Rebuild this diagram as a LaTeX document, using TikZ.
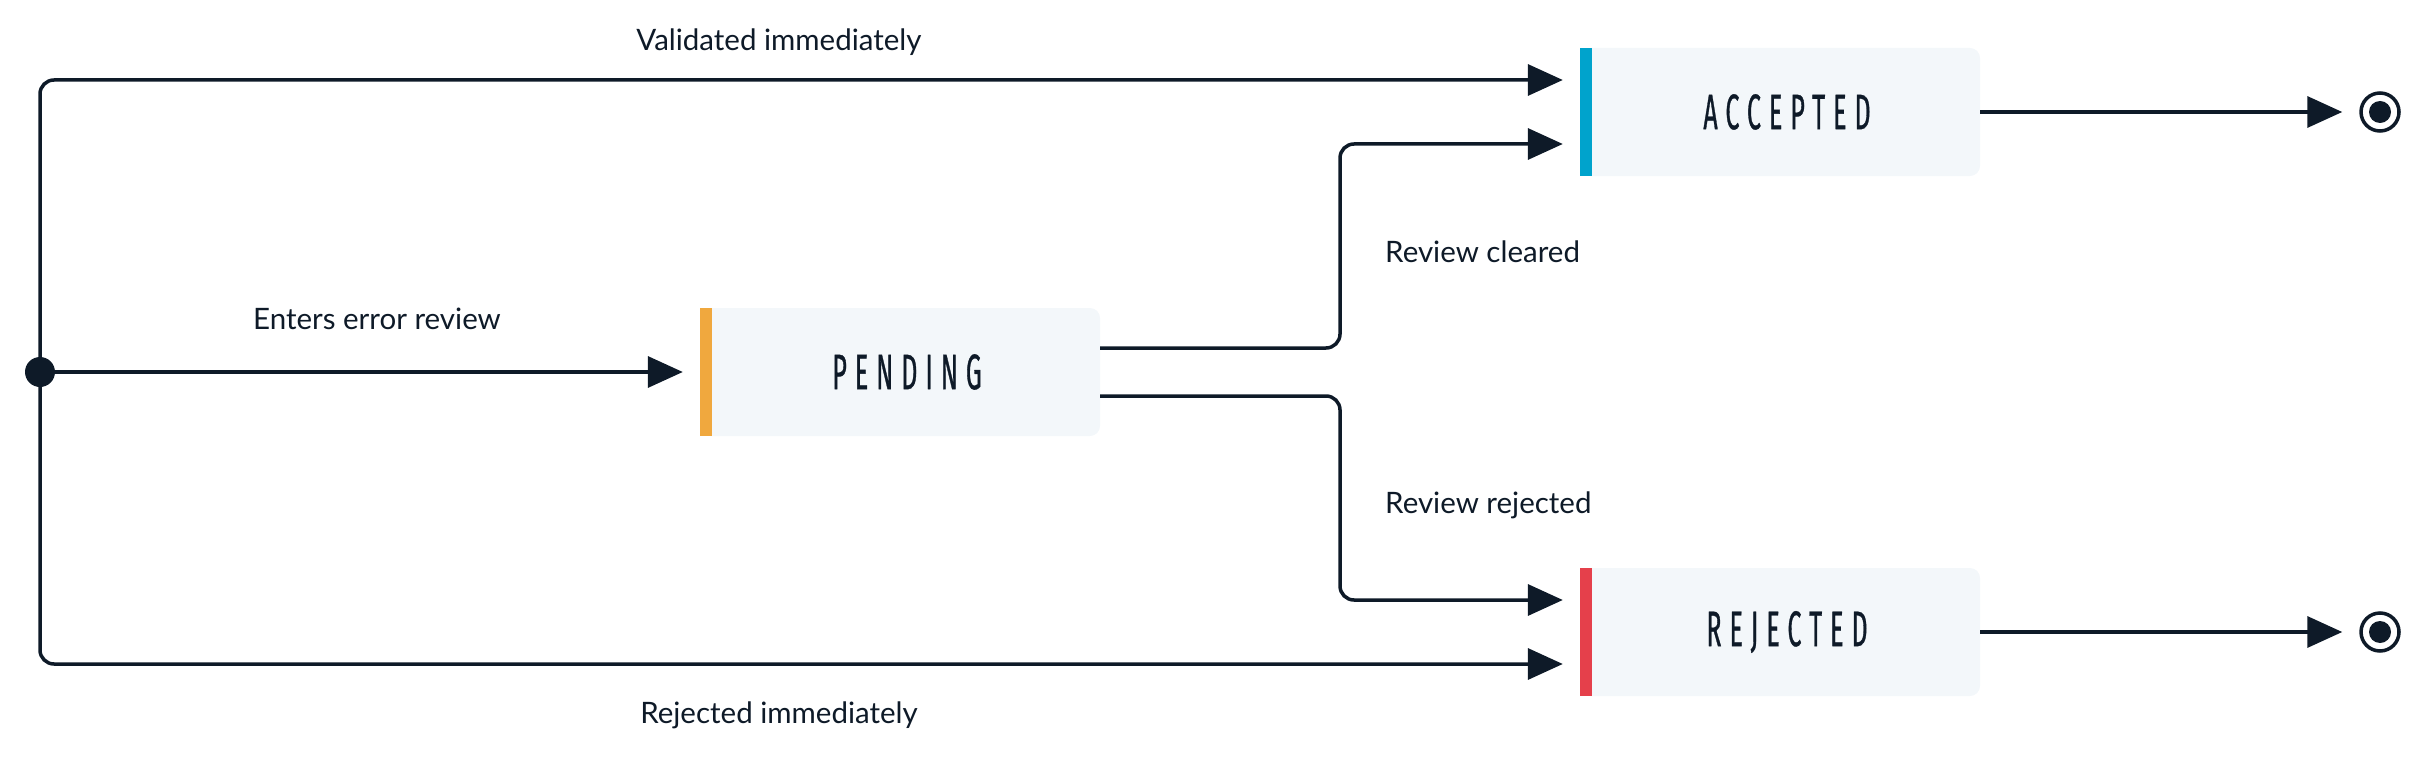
\documentclass[tikz,border=0pt]{standalone}
\usepackage{fontspec}
\setmainfont{Lato}
\newfontfamily\titlefont[FakeStretch=0.5,LetterSpace=16,FakeBold=0.6]{Fira Sans}
\usetikzlibrary{arrows.meta,calc}
\definecolor{ink}{HTML}{0E1A28}
\definecolor{boxbg}{HTML}{F3F7FA}
\definecolor{barA}{HTML}{00A3CC}
\definecolor{barP}{HTML}{F0A83E}
\definecolor{barR}{HTML}{E5404B}
\begin{document}
\begin{tikzpicture}[x=1pt,y=-1pt,
  conn/.style={draw=ink,line width=3.5pt,rounded corners=14pt,-{Triangle[length=35pt,width=31pt]},shorten >=17pt},
  statebox/.style={fill=boxbg,rounded corners=10pt,minimum width=400pt,minimum height=128pt,inner sep=0pt,text=ink,font=\titlefont\fontsize{50}{54}\selectfont},
  lbl/.style={text=ink,inner sep=0pt,font=\fontsize{29.5}{34}\selectfont},
  final/.style={circle,draw=ink,line width=3.5pt,minimum size=38pt,inner sep=0pt}]
\useasboundingbox (0,0) rectangle (2420,765);

\node[circle,fill=ink,minimum size=30pt,inner sep=0pt] (start) at (40,372) {};

\node[statebox] (acc) at (1780,112) {\hspace*{14pt}ACCEPTED};
\node[statebox] (pend) at (900,372) {\hspace*{14pt}PENDING};
\node[statebox] (rej) at (1780,632) {\hspace*{14pt}REJECTED};
\fill[barA] (acc.north west) rectangle ([xshift=12pt]acc.south west);
\fill[barP] (pend.north west) rectangle ([xshift=12pt]pend.south west);
\fill[barR] (rej.north west) rectangle ([xshift=12pt]rej.south west);

\node[final] (endA) at (2380,112) {};
\fill[ink] (endA) circle (11pt);
\node[final] (endR) at (2380,632) {};
\fill[ink] (endR) circle (11pt);

\coordinate (accin1) at ([yshift=32pt]acc.west);
\coordinate (accin2) at ([yshift=-32pt]acc.west);
\coordinate (rejin1) at ([yshift=32pt]rej.west);
\coordinate (rejin2) at ([yshift=-32pt]rej.west);
\coordinate (pout1) at ([yshift=24pt]pend.east);
\coordinate (pout2) at ([yshift=-24pt]pend.east);
\coordinate (midx) at ($(pend.east)!0.5!(acc.west)$);

\draw[conn] (start) |- (accin1);
\draw[conn] (start) |- (rejin2);
\draw[conn] (start) -- (pend.west);
\draw[conn] (pout1) -- (pout1 -| midx) |- (accin2);
\draw[conn] (pout2) -- (pout2 -| midx) |- (rejin1);
\draw[conn] (acc.east) -- (endA.west);
\draw[conn] (rej.east) -- (endR.west);

\node[lbl] (l1) at (779,42) {Validated immediately};
\node[lbl] (l2) at (377,319) {Enters error review};
\node[lbl,anchor=west] (l3) at (1385,252) {Review cleared};
\node[lbl,anchor=west] (l4) at (1385,505) {Review rejected};
\node[lbl] (l5) at (779,715) {Rejected immediately};
\end{tikzpicture}
\end{document}
